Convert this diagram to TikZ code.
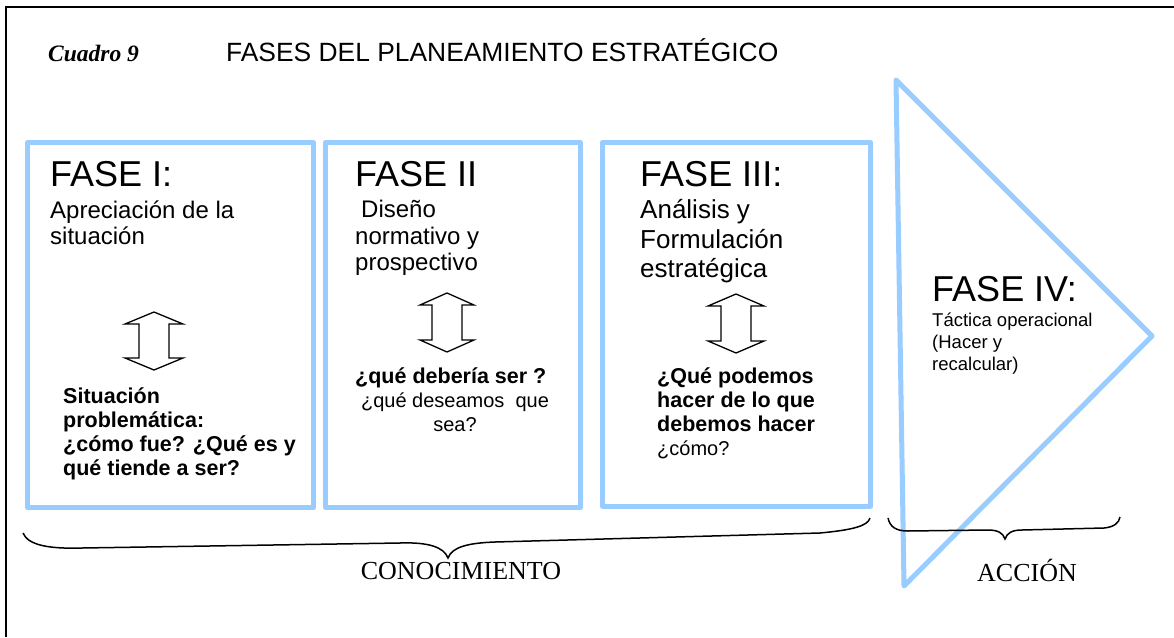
\documentclass[tikz,border=0pt]{standalone}
\usepackage{fontspec}
\setmainfont{Liberation Serif}
\setsansfont{Liberation Sans}
\newfontfamily\arialf{Liberation Sans}
\newfontfamily\tnrf{Liberation Serif}
\definecolor{boxblue}{RGB}{153,204,255}
\newcommand\fsz[1]{\fontsize{#1}{#1}\selectfont}
\newcommand\udarrow[4]{% cx, top, bottom, halfwidth of head
  \draw[updown] (#1,#2) -- ({#1+#4},{#2+12}) -- ({#1+15},{#2+12}) -- ({#1+15},{#3-12})
   -- ({#1+#4},{#3-12}) -- (#1,#3) -- ({#1-#4},{#3-12}) -- ({#1-15},{#3-12})
   -- ({#1-15},{#2+12}) -- ({#1-#4},{#2+12}) -- cycle;}
\begin{document}
\begin{tikzpicture}[x=1pt,y=-1pt,
  bluebox/.style={draw=boxblue, line width=5pt, line join=round},
  updown/.style={draw=black, line width=1.3pt, fill=white, line join=miter},
  txt/.style={inner sep=0pt, anchor=base west},
  ctxt/.style={inner sep=0pt, anchor=base},
  bracestyle/.style={draw=black, line width=1.5pt},
  big/.style={font=\arialf\fsz{36}},
  mid/.style={font=\arialf\fsz{24}},
  midb/.style={font=\arialf\fsz{26}},
  bq/.style={font=\arialf\bfseries\fsz{21.5}},
  rq/.style={font=\arialf\fsz{20}},
  small/.style={font=\arialf\fsz{18.5}},
  serif/.style={font=\tnrf\fsz{26}}]
\useasboundingbox (0,0) rectangle (1174,637);
\fill[white] (0,0) rectangle (1174,637);
% frame
\draw[line width=2pt] (6,637) -- (6,7) -- (1174,7);
% title
\node[txt, font=\tnrf\bfseries\itshape\fsz{23.5}] (cuadro) at (48,61) {Cuadro 9};
\node[txt, font=\arialf\fsz{26.4}] (title) at (226,61) {FASES DEL PLANEAMIENTO ESTRATÉGICO};
% boxes
\draw[bluebox] (27.5,142.5) rectangle (313.5,507.5);
\draw[bluebox] (325.5,142.5) rectangle (580.5,507.5);
\draw[bluebox] (602.5,142.5) rectangle (870.5,506);
% triangle
\draw[bluebox] (896,80) -- (1152,336) -- (904,586) -- cycle;
% box 1
\node[txt, big] (f1) at (50,186) {FASE I:};
\node[txt, mid] (f1a) at (50,218) {Apreciación de la};
\node[txt, mid] (f1b) at (50,244) {situación};
\udarrow{154}{312}{370}{29}
\node[txt, bq] (q1a) at (63,403) {Situación};
\node[txt, bq] (q1b) at (63,427) {problemática:};
\node[txt, bq] (q1c) at (63,451) {¿cómo fue? ¿Qué es y};
\node[txt, bq] (q1d) at (63,475) {qué tiende a ser?};
% box 2
\node[txt, big] (f2) at (355,186) {FASE II};
\node[txt, mid] (f2a) at (361,217) {Diseño};
\node[txt, mid] (f2b) at (355,244) {normativo y};
\node[txt, mid] (f2c) at (355,270) {prospectivo};
\udarrow{447}{293}{352}{27}
\node[txt, bq] (q2a) at (355,383) {¿qué debería ser ?};
\node[ctxt, rq] (q2b) at (455,407) {¿qué deseamos\ \ que};
\node[ctxt, rq] (q2c) at (455,431) {sea?};
% box 3
\node[txt, big] (f3) at (640,186) {FASE III:};
\node[txt, midb] (f3a) at (640,218) {Análisis y};
\node[txt, midb] (f3b) at (640,248) {Formulación};
\node[txt, midb] (f3c) at (640,277) {estratégica};
\udarrow{736}{294}{353}{28}
\node[txt, bq] (q3a) at (657,383) {¿Qué podemos};
\node[txt, bq] (q3b) at (657,407) {hacer de lo que};
\node[txt, bq] (q3c) at (657,431) {debemos hacer};
\node[txt, rq] (q3d) at (657,455) {¿cómo?};
% phase IV
\node[txt, big] (f4) at (932,301) {FASE IV:};
\node[txt, small] (f4a) at (932,326) {Táctica operacional};
\node[txt, small] (f4b) at (932,348) {(Hacer y};
\node[txt, small] (f4c) at (932,370) {recalcular)};
% braces
\coordinate (b1l) at (23,533);
\coordinate (b1t) at (448,558);
\coordinate (b1r) at (870,518);
\draw[bracestyle] (b1l) .. controls (28,545) and (48,549) .. (82,548)
  -- (400,543) .. controls (428,542) and (444,547) .. (b1t)
  .. controls (452,547) and (468,543) .. (495,542)
  -- (820,533) .. controls (852,530) and (868,526) .. (b1r);
\coordinate (b2l) at (888,518);
\coordinate (b2t) at (1005,539);
\coordinate (b2r) at (1120,517);
\draw[bracestyle] (b2l) .. controls (890,527) and (896,531) .. (908,531)
  -- (988,530) .. controls (998,530) and (1003,533) .. (b2t)
  .. controls (1007,533) and (1012,530) .. (1022,530)
  -- (1104,528) .. controls (1114,527) and (1119,523) .. (b2r);
\node[ctxt, serif] (con) at (461,579) {CONOCIMIENTO};
\node[ctxt, serif] (acc) at (1027,581) {ACCIÓN};
\end{tikzpicture}
\end{document}
